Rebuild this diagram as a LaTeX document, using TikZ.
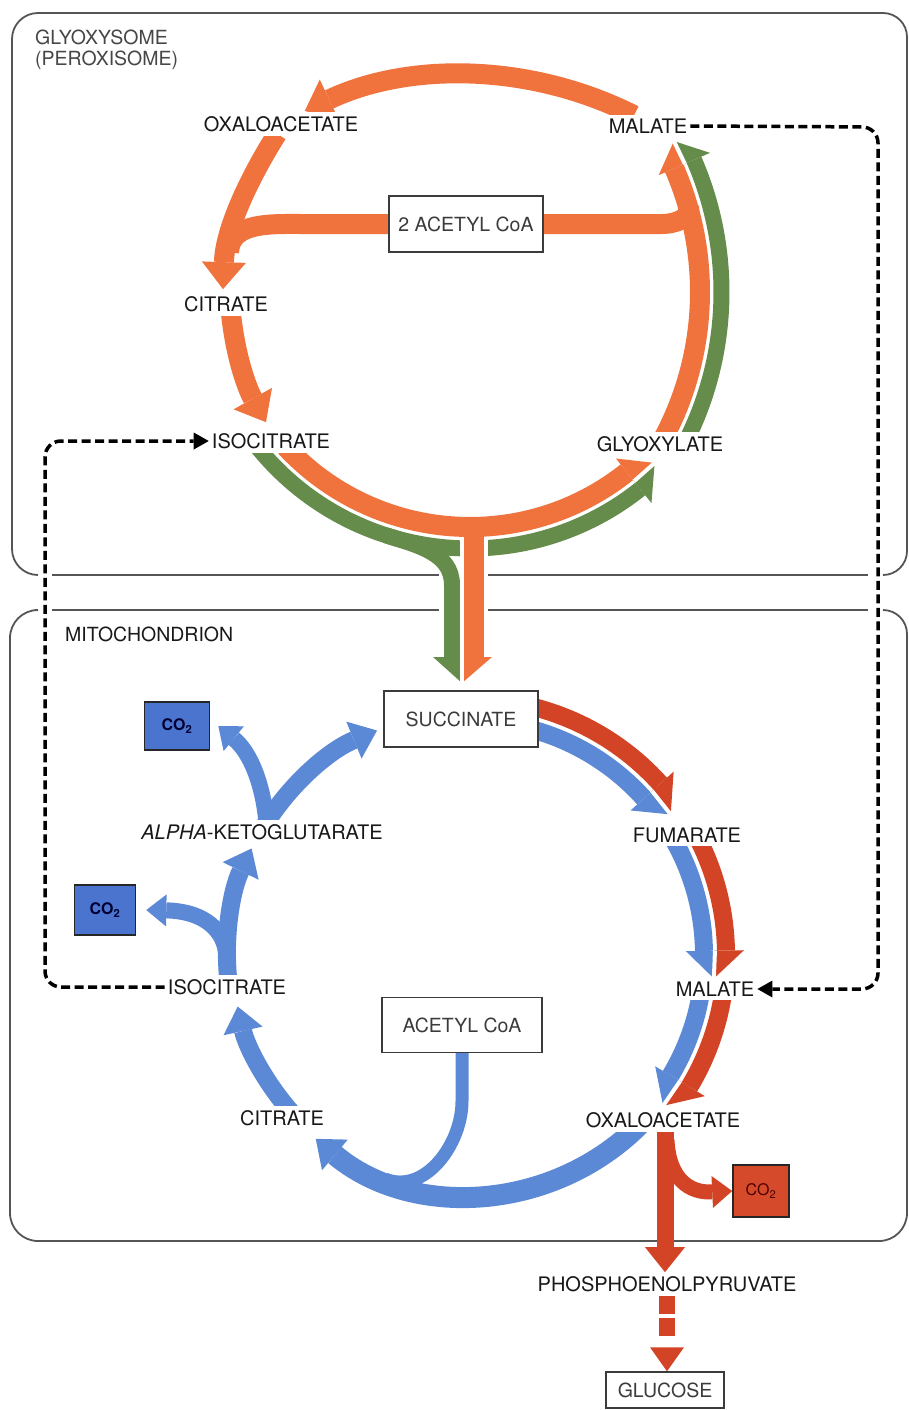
\documentclass[tikz,border=0pt]{standalone}
\usepackage{fontspec}
\setmainfont{TeX Gyre Heros}
\usetikzlibrary{arrows.meta,calc}
\pgfdeclarelayer{paper}
\pgfdeclarelayer{paths}
\pgfsetlayers{paper,paths,main}

\definecolor{gorange}{RGB}{240,114,60}
\definecolor{ggreen}{RGB}{101,140,74}
\definecolor{mblue}{RGB}{92,137,214}
\definecolor{mred}{RGB}{211,67,38}
\definecolor{co2blue}{RGB}{74,116,206}
\definecolor{co2red}{RGB}{214,74,44}
\definecolor{framegray}{RGB}{85,85,85}
\definecolor{ink}{RGB}{24,24,24}

% split arrow head shared by two parallel bands around a centre:
% #1 centre, #2 base angle, #3 tip angle, #4 outer radius, #5 split radius,
% #6 inner radius, #7 outer colour, #8 inner colour
\newcommand{\splithead}[8]{%
  \fill[#7] ($(#1)+(#2:#4)$) -- ($(#1)+(#2:#5)$) -- ($(#1)+(#3:#5)$) -- cycle;
  \fill[#8] ($(#1)+(#2:#6)$) -- ($(#1)+(#2:#5)$) -- ($(#1)+(#3:#5)$) -- cycle;
  \draw[white,line width=4pt] ($(#1)+(#2:#5)$) -- ($(#1)+(#3:#5)$);
}

\begin{document}
\begin{tikzpicture}[x=1pt,y=1pt,
  lbl/.style={fill=white, text=ink, font=\fontsize{20}{23}\selectfont, inner xsep=3pt, inner ysep=4pt},
  title/.style={text=ink, font=\fontsize{19.5}{20.5}\selectfont, inner sep=0pt},
  boxnode/.style={draw=ink!85, line width=1.4pt, fill=white, text=ink!85, font=\fontsize{19.5}{22}\selectfont, inner sep=0pt},
  bluebox/.style={draw=black!85, line width=1.6pt, fill=co2blue, text=black!80!blue, font=\fontsize{16}{18}\selectfont\bfseries, inner sep=0pt},
  redbox/.style={draw=black!85, line width=1.6pt, fill=co2red, text=black!70!red, font=\fontsize{16}{18}\selectfont, inner sep=0pt},
  frame/.style={draw=framegray, line width=1.8pt},
  oband/.style={draw=gorange, line width=20pt},
  gband/.style={draw=ggreen, line width=16pt},
  bband/.style={draw=mblue, line width=18pt},
  rband/.style={draw=mred, line width=18pt},
  headO/.style={-{Triangle[width=44pt,length=27pt,line width=0pt]}},
  headB/.style={-{Triangle[width=40pt,length=25pt,line width=0pt]}},
  headS/.style={-{Triangle[width=32pt,length=20pt,line width=0pt]}},
  dashlink/.style={draw=black, line width=3.5pt, dash pattern=on 9pt off 4.5pt, rounded corners=16pt, -{Triangle[width=17pt,length=15pt,line width=0pt]}}
]
\begin{pgfonlayer}{paper}
  \fill[white] (0,0) rectangle (909,-1410);
\end{pgfonlayer}
\useasboundingbox (0,0) rectangle (909,-1410);

% centres of the curved pathways
\coordinate (CT) at (465,-450);
\coordinate (CB) at (470,-275);
\coordinate (CR) at (390,-292);
\coordinate (CM) at (470,-955);

% ---------- compartment titles ----------
\node[title, text=ink!80, anchor=north west, align=left] (gtitle) at (35,-30) {GLYOXYSOME\\(PEROXISOME)};
\node[title, anchor=west] (mtitle) at (65,-634) {MITOCHONDRION};

% ---------- glyoxysome metabolites ----------
\node[lbl] (oxaT) at (281,-124) {OXALOACETATE};
\node[lbl] (malT) at (648,-126) {MALATE};
\node[boxnode, minimum width=154pt, minimum height=56pt] (acT) at (466,-224) {2 ACETYL CoA};
\node[lbl] (citT) at (226,-304) {CITRATE};
\node[lbl] (isoT) at (271,-441) {ISOCITRATE};
\node[lbl] (glyx) at (660,-444) {GLYOXYLATE};

% ---------- mitochondrial metabolites ----------
\node[boxnode, minimum width=154pt, minimum height=56pt] (succ) at (461,-719) {SUCCINATE};
\node[bluebox, minimum width=65pt, minimum height=48pt] (co2up) at (177,-726) {CO\textsubscript{2}};
\node[lbl] (akg) at (262,-832) {\textit{ALPHA}-KETOGLUTARATE};
\node[lbl] (fum) at (687,-835) {FUMARATE};
\node[bluebox, minimum width=61pt, minimum height=50pt] (co2low) at (105,-910) {CO\textsubscript{2}};
\node[lbl] (isoM) at (227,-987) {ISOCITRATE};
\node[lbl] (malM) at (715,-989) {MALATE};
\node[boxnode, minimum width=160pt, minimum height=55pt] (acM) at (462,-1025) {ACETYL CoA};
\node[lbl] (citM) at (282,-1118) {CITRATE};
\node[lbl] (oxaM) at (663,-1120) {OXALOACETATE};
\node[redbox, minimum width=56pt, minimum height=52pt] (co2red) at (761,-1191) {CO\textsubscript{2}};
\node[lbl] (pep) at (667,-1284) {PHOSPHOENOLPYRUVATE};
\node[boxnode, minimum width=118pt, minimum height=36pt] (gluc) at (665,-1390) {GLUCOSE};

\begin{pgfonlayer}{paths}
% ---------- compartment outlines ----------
\draw[frame] (38,-575) arc[start angle=270,end angle=180,radius=26] -- (12,-39)
  arc[start angle=180,end angle=90,radius=26] -- (883,-13)
  arc[start angle=90,end angle=0,radius=24] -- (907,-551)
  arc[start angle=0,end angle=-90,radius=24];
\draw[frame] (52,-575) -- (439,-575) (488,-575) -- (868,-575);
\draw[frame] (38,-610) arc[start angle=90,end angle=180,radius=28] -- (10,-1213)
  arc[start angle=180,end angle=270,radius=28] -- (879,-1241)
  arc[start angle=270,end angle=360,radius=28] -- (907,-634)
  arc[start angle=0,end angle=90,radius=24];
\draw[frame] (52,-610) -- (439,-610) (488,-610) -- (868,-610);

% ---------- glyoxylate cycle ----------
\draw[oband, headO] ($(CT)+(63.2:375)$) arc[start angle=63.2,end angle=115.3,radius=375];
\draw[oband, headO] ($(oxaT.south)+(-4,2)$) .. controls (248,-180) and (225,-230) .. ($(citT.north)+(-3,3)$);
\draw[oband] (acT.west) -- (300,-224) to[out=180,in=87] (229,-252);
\draw[oband, headO] ($(citT.south)+(5,2)$) .. controls (236,-360) and (248,-390) .. ($(isoT.north)+(-5,7)$);

% glyoxylate -> malate (paired bands)
\draw[gband] ($(CR)+(-27:331.5)$) arc[start angle=-27,end angle=23.5,radius=331.5];
\draw[oband] ($(CR)+(-29:310)$) arc[start angle=-29,end angle=23.5,radius=310];
\draw[oband] (acT.east) -- (662,-224) to[out=0,in=-77] (689,-206);
\splithead{CR}{23.5}{28}{349}{321.5}{293}{ggreen}{gorange}

% isocitrate -> glyoxylate (paired bands) and succinate export
\draw[gband] ($(CB)+(219:273.5)$) arc[start angle=219,end angle=308.5,radius=273.5];
\draw[gband] ($(CB)+(252:273.5)$) to[out=-18,in=90] (452,-585) -- (452,-657);
\draw[oband, preaction={draw=white, line width=28pt}] (474,-528) -- (474,-657);
\draw[oband] ($(CB)+(223:252)$) arc[start angle=223,end angle=308.5,radius=252];
\splithead{CB}{308.5}{314.5}{291.5}{263.5}{234.5}{ggreen}{gorange}
\fill[ggreen] (433,-657) -- (462,-657) -- (462,-683) -- cycle;
\fill[gorange] (462,-657) -- (492,-657) -- (462,-683) -- cycle;
\draw[white, line width=4pt] (462,-657) -- (462,-683);

% ---------- citric acid cycle ----------
% succinate -> fumarate
\draw[rband] ($(CM)+(75:256)$) arc[start angle=75,end angle=42,radius=256];
\draw[bband] ($(CM)+(74:234)$) arc[start angle=74,end angle=42,radius=234];
\splithead{CM}{42}{35}{274}{245}{216}{mred}{mblue}
% fumarate -> malate
\draw[rband] ($(CM)+(27:256)$) arc[start angle=27,end angle=1,radius=256];
\draw[bband] ($(CM)+(29.5:234)$) arc[start angle=29.5,end angle=1,radius=234];
\splithead{CM}{1}{-5.5}{274}{245}{216}{mred}{mblue}
% malate -> oxaloacetate
\draw[rband] ($(CM)+(-8.5:256)$) arc[start angle=-8.5,end angle=-31,radius=256];
\draw[bband] ($(CM)+(-9.3:234)$) arc[start angle=-9.3,end angle=-31,radius=234];
\splithead{CM}{-31}{-38}{274}{245}{216}{mred}{mblue}
% oxaloacetate + acetyl CoA -> citrate
\draw[bband, line width=13pt] (acM.south) -- ++(0,-48) to[out=-90,in=-22] (385,-1179);
\draw[bband, line width=21pt, headB] ($(CM)+(-45.1:240)$) arc[start angle=-45.1,end angle=-130,radius=240];
% citrate -> isocitrate -> alpha-ketoglutarate -> succinate
\draw[bband, headB] ($(CM)+(222:238)$) arc[start angle=222,end angle=192.5,radius=238];
\draw[bband, headB] ($(CM)+(186:243)$) arc[start angle=186,end angle=154,radius=243];
\draw[bband, line width=16pt, headS] (226,-952) .. controls (222,-925) and (198,-911) .. ($(co2low.east)+(10,0)$);
\draw[bband, headB] ($(CM)+(150:243)$) arc[start angle=150,end angle=112.5,radius=243];
\draw[bband, line width=16pt, headS] (266,-818) .. controls (262,-782) and (250,-752) .. ($(co2up.east)+(8,0)$);

% ---------- gluconeogenesis ----------
\draw[rband, line width=17pt, headB] ($(oxaM.south)+(2,3)$) -- ($(pep.north)+(-2,0)$);
\draw[rband, line width=15pt, headS] (667,-1140) .. controls (669,-1180) and (690,-1193) .. (co2red.west);
\draw[rband, line width=16pt, dash pattern=on 18pt off 4pt on 18pt off 16pt,
  -{Triangle[width=34pt,length=24pt,line width=0pt]}] (pep.south) -- (pep.south |- gluc.north);

% ---------- shuttles between compartments ----------
\draw[dashlink] (malT.east) -- (878,-127) -- (878,-989) -- (malM.east);
\draw[dashlink] (isoM.west) -- (45,-987) -- (45,-441) -- (isoT.west);
\end{pgfonlayer}
\end{tikzpicture}
\end{document}
